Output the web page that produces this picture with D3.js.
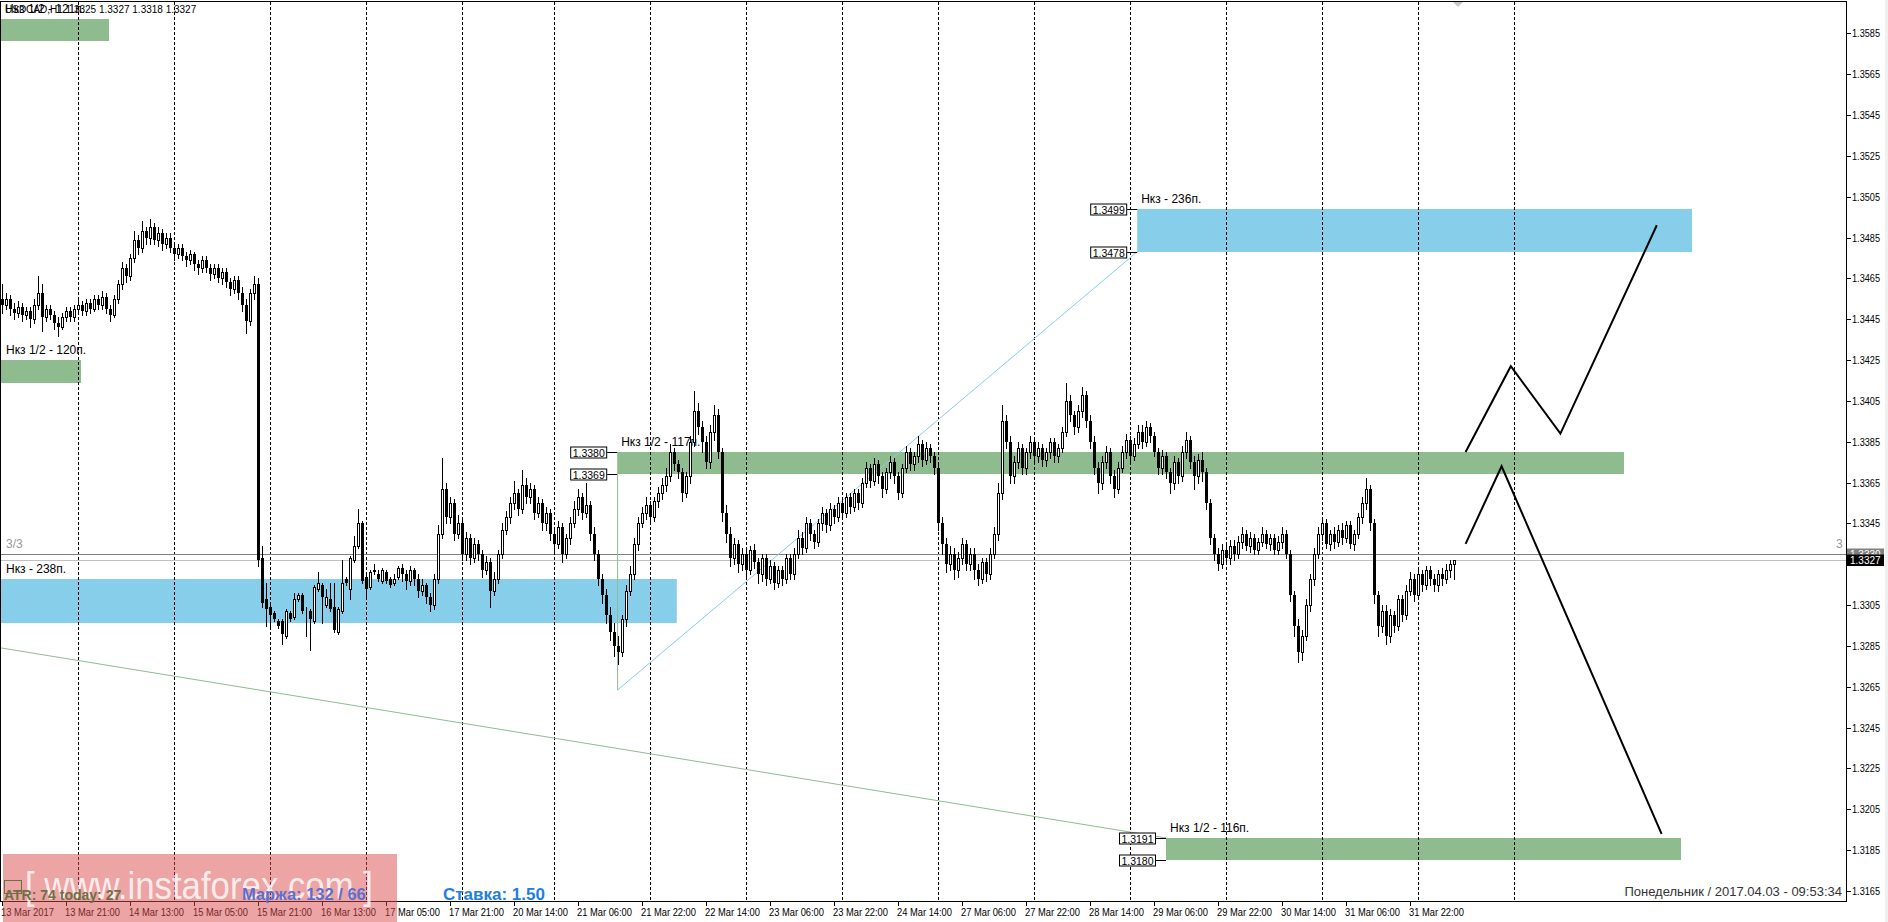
<!DOCTYPE html>
<html><head><meta charset="utf-8">
<script src="https://cdn.jsdelivr.net/npm/d3@7"></script>
<style>
body{margin:0;background:#fff;overflow:hidden}
svg{display:block}
text{font-family:"Liberation Sans",Arial,sans-serif}
</style>
</head><body>
<svg id="c" width="1888" height="922"></svg>
<script>
// ---------- DATA ----------
const yTicks = [1.3585,1.3565,1.3545,1.3525,1.3505,1.3485,1.3465,1.3445,1.3425,1.3405,1.3385,1.3365,1.3345,1.3305,1.3285,1.3265,1.3245,1.3225,1.3205,1.3185,1.3165];
const xLabels = ["13 Mar 2017","13 Mar 21:00","14 Mar 13:00","15 Mar 05:00","15 Mar 21:00","16 Mar 13:00","17 Mar 05:00","17 Mar 21:00","20 Mar 14:00","21 Mar 06:00","21 Mar 22:00","22 Mar 14:00","23 Mar 06:00","23 Mar 22:00","24 Mar 14:00","27 Mar 06:00","27 Mar 22:00","28 Mar 14:00","29 Mar 06:00","29 Mar 22:00","30 Mar 14:00","31 Mar 06:00","31 Mar 22:00"];
const xLabelBars = [0,16,32,48,64,80,96,112,128,144,160,176,192,208,224,240,256,272,288,304,320,336,352];
const gridBars = [19,43,67,91,115,138,162,186,210,234,258,282,306,330,354,378];

// hourly candles, USDCAD H1 (index = bar number)
const opens = [
1.3455,1.3452,1.3455,1.3450,1.3448,1.3451,1.3447,1.3449,1.3445,1.3452,
1.3458,1.3446,1.3450,1.3447,1.3443,1.3441,1.3446,1.3449,1.3446,1.3450,
1.3452,1.3449,1.3453,1.3450,1.3455,1.3452,1.3456,1.3450,1.3447,1.3455,
1.3462,1.3470,1.3466,1.3475,1.3484,1.3480,1.3488,1.3485,1.3490,1.3484,
1.3487,1.3482,1.3485,1.3480,1.3477,1.3480,1.3476,1.3474,1.3477,1.3472,
1.3470,1.3474,1.3470,1.3467,1.3470,1.3465,1.3468,1.3463,1.3460,1.3464,
1.3458,1.3452,1.3444,1.3458,1.3462,1.3328,1.3308,1.3304,1.3301,1.3297,
1.3297,1.3290,1.3301,1.3299,1.3308,1.3310,1.3302,1.3302,1.3297,1.3313,
1.3315,1.3305,1.3308,1.3304,1.3292,1.3302,1.3318,1.3313,1.3327,1.3334,
1.3345,1.3319,1.3314,1.3322,1.3320,1.3317,1.3321,1.3318,1.3316,1.3319,
1.3323,1.3320,1.3317,1.3322,1.3318,1.3312,1.3315,1.3309,1.3305,1.3318,
1.3340,1.3362,1.3348,1.3355,1.3340,1.3345,1.3330,1.3338,1.3328,1.3335,
1.3330,1.3322,1.3326,1.3312,1.3318,1.3330,1.3342,1.3348,1.3355,1.3360,
1.3352,1.3364,1.3358,1.3362,1.3350,1.3355,1.3345,1.3350,1.3340,1.3335,
1.3343,1.3330,1.3338,1.3345,1.3352,1.3358,1.3350,1.3354,1.3340,1.3330,
1.3318,1.3310,1.3300,1.3292,1.3285,1.3282,1.3298,1.3312,1.3320,1.3335,
1.3345,1.3350,1.3354,1.3348,1.3356,1.3360,1.3364,1.3368,1.3380,1.3374,
1.3370,1.3360,1.3368,1.3385,1.3400,1.3392,1.3385,1.3375,1.3390,1.3398,
1.3380,1.3350,1.3340,1.3328,1.3335,1.3325,1.3330,1.3322,1.3332,1.3326,
1.3320,1.3328,1.3318,1.3324,1.3316,1.3322,1.3318,1.3328,1.3320,1.3330,
1.3338,1.3333,1.3345,1.3340,1.3336,1.3345,1.3350,1.3344,1.3352,1.3348,
1.3355,1.3350,1.3358,1.3353,1.3360,1.3355,1.3365,1.3372,1.3366,1.3374,
1.3368,1.3362,1.3370,1.3375,1.3368,1.3360,1.3372,1.3380,1.3374,1.3378,
1.3384,1.3376,1.3382,1.3378,1.3372,1.3345,1.3335,1.3325,1.3330,1.3322,
1.3328,1.3335,1.3325,1.3330,1.3322,1.3318,1.3326,1.3320,1.3330,1.3340,
1.3360,1.3395,1.3385,1.3368,1.3375,1.3382,1.3372,1.3380,1.3385,1.3378,
1.3382,1.3376,1.3380,1.3385,1.3378,1.3382,1.3390,1.3405,1.3398,1.3392,
1.3400,1.3408,1.3395,1.3385,1.3372,1.3365,1.3375,1.3380,1.3368,1.3362,
1.3372,1.3380,1.3386,1.3378,1.3384,1.3390,1.3385,1.3392,1.3388,1.3380,
1.3372,1.3378,1.3370,1.3365,1.3375,1.3368,1.3380,1.3386,1.3375,1.3368,
1.3376,1.3370,1.3355,1.3338,1.3330,1.3325,1.3332,1.3328,1.3334,1.3330,
1.3336,1.3340,1.3334,1.3338,1.3332,1.3336,1.3340,1.3335,1.3338,1.3332,
1.3336,1.3340,1.3330,1.3310,1.3295,1.3282,1.3290,1.3305,1.3318,1.3330,
1.3340,1.3345,1.3335,1.3340,1.3336,1.3342,1.3338,1.3344,1.3335,1.3340,
1.3348,1.3355,1.3362,1.3345,1.3310,1.3295,1.3302,1.3290,1.3300,1.3295,
1.3308,1.3300,1.3312,1.3318,1.3310,1.3320,1.3315,1.3322,1.3318,1.3315,
1.3320,1.3318,1.3322,1.3325];
const highs = [
1.3462,1.3458,1.3457,1.3453,1.3454,1.3453,1.3451,1.3451,1.3455,1.3466,
1.3462,1.3452,1.3452,1.3449,1.3446,1.3448,1.3451,1.3451,1.3452,1.3456,
1.3454,1.3455,1.3455,1.3457,1.3457,1.3459,1.3458,1.3452,1.3457,1.3464,
1.3473,1.3472,1.3477,1.3488,1.3486,1.3493,1.3490,1.3494,1.3492,1.3490,
1.3489,1.3487,1.3487,1.3482,1.3482,1.3482,1.3478,1.3479,1.3478,1.3474,
1.3476,1.3476,1.3472,1.3472,1.3472,1.3470,1.3470,1.3465,1.3466,1.3466,
1.3461,1.3455,1.3460,1.3466,1.3465,1.3334,1.3316,1.3306,1.3302,1.3298,
1.3298,1.3303,1.3302,1.3311,1.3311,1.3311,1.3304,1.3303,1.3315,1.3321,
1.3316,1.3313,1.3316,1.3316,1.3304,1.3327,1.3319,1.3329,1.3339,1.3352,
1.3346,1.3320,1.3322,1.3325,1.3322,1.3323,1.3322,1.3319,1.3320,1.3324,
1.3325,1.3322,1.3324,1.3323,1.3320,1.3318,1.3316,1.3311,1.3320,1.3344,
1.3377,1.3365,1.3358,1.3357,1.3349,1.3347,1.3341,1.3340,1.3338,1.3337,
1.3332,1.3329,1.3328,1.3321,1.3332,1.3345,1.3351,1.3358,1.3366,1.3362,
1.3371,1.3367,1.3365,1.3364,1.3358,1.3357,1.3353,1.3352,1.3343,1.3346,
1.3345,1.3340,1.3348,1.3356,1.3362,1.3360,1.3365,1.3356,1.3343,1.3332,
1.3320,1.3313,1.3304,1.3296,1.3290,1.3300,1.3315,1.3324,1.3338,1.3348,
1.3353,1.3358,1.3356,1.3358,1.3363,1.3367,1.3372,1.3384,1.3382,1.3376,
1.3372,1.3370,1.3388,1.3410,1.3404,1.3395,1.3388,1.3393,1.3403,1.3401,
1.3382,1.3354,1.3343,1.3338,1.3337,1.3333,1.3333,1.3334,1.3335,1.3328,
1.3330,1.3330,1.3327,1.3326,1.3324,1.3324,1.3330,1.3330,1.3333,1.3342,
1.3341,1.3348,1.3347,1.3342,1.3347,1.3353,1.3352,1.3355,1.3354,1.3358,
1.3357,1.3360,1.3360,1.3362,1.3362,1.3367,1.3375,1.3374,1.3377,1.3376,
1.3370,1.3372,1.3378,1.3377,1.3370,1.3374,1.3383,1.3382,1.3380,1.3388,
1.3386,1.3385,1.3384,1.3380,1.3374,1.3348,1.3338,1.3334,1.3333,1.3331,
1.3338,1.3337,1.3333,1.3333,1.3325,1.3328,1.3328,1.3333,1.3343,1.3365,
1.3403,1.3398,1.3388,1.3378,1.3385,1.3384,1.3382,1.3388,1.3387,1.3385,
1.3384,1.3382,1.3387,1.3387,1.3384,1.3392,1.3414,1.3408,1.3400,1.3403,
1.3412,1.3410,1.3398,1.3388,1.3375,1.3378,1.3383,1.3382,1.3371,1.3375,
1.3383,1.3389,1.3388,1.3387,1.3393,1.3393,1.3395,1.3394,1.3390,1.3382,
1.3381,1.3380,1.3372,1.3378,1.3377,1.3383,1.3390,1.3388,1.3378,1.3379,
1.3380,1.3372,1.3357,1.3340,1.3333,1.3335,1.3336,1.3337,1.3337,1.3339,
1.3343,1.3342,1.3341,1.3340,1.3338,1.3343,1.3342,1.3340,1.3340,1.3339,
1.3343,1.3342,1.3332,1.3312,1.3298,1.3293,1.3308,1.3320,1.3333,1.3343,
1.3348,1.3347,1.3342,1.3343,1.3344,1.3345,1.3346,1.3346,1.3342,1.3350,
1.3358,1.3367,1.3364,1.3347,1.3312,1.3305,1.3305,1.3303,1.3302,1.3310,
1.3310,1.3315,1.3321,1.3320,1.3323,1.3322,1.3324,1.3324,1.3320,1.3322,
1.3323,1.3325,1.3327,1.3327];
const lows = [
1.3448,1.3450,1.3447,1.3445,1.3446,1.3444,1.3445,1.3441,1.3443,1.3450,
1.3439,1.3444,1.3445,1.3440,1.3437,1.3440,1.3444,1.3444,1.3444,1.3448,
1.3447,1.3447,1.3448,1.3449,1.3450,1.3450,1.3448,1.3444,1.3446,1.3453,
1.3460,1.3463,1.3464,1.3473,1.3477,1.3478,1.3482,1.3482,1.3482,1.3481,
1.3479,1.3480,1.3478,1.3474,1.3475,1.3474,1.3471,1.3472,1.3469,1.3467,
1.3468,1.3468,1.3464,1.3465,1.3463,1.3462,1.3461,1.3457,1.3458,1.3455,
1.3449,1.3438,1.3442,1.3455,1.3324,1.3304,1.3295,1.3295,1.3297,1.3294,
1.3286,1.3289,1.3297,1.3298,1.3307,1.3301,1.3290,1.3283,1.3296,1.3312,
1.3296,1.3304,1.3302,1.3292,1.3291,1.3301,1.3315,1.3308,1.3326,1.3333,
1.3316,1.3308,1.3313,1.3320,1.3317,1.3316,1.3316,1.3314,1.3315,1.3318,
1.3317,1.3313,1.3315,1.3315,1.3309,1.3310,1.3306,1.3302,1.3303,1.3316,
1.3338,1.3345,1.3345,1.3337,1.3338,1.3327,1.3327,1.3325,1.3326,1.3327,
1.3319,1.3320,1.3304,1.3310,1.3316,1.3328,1.3340,1.3345,1.3352,1.3349,
1.3350,1.3355,1.3355,1.3347,1.3348,1.3342,1.3342,1.3337,1.3330,1.3333,
1.3326,1.3328,1.3335,1.3343,1.3349,1.3347,1.3348,1.3337,1.3327,1.3315,
1.3306,1.3296,1.3288,1.3280,1.3276,1.3280,1.3295,1.3310,1.3318,1.3332,
1.3343,1.3347,1.3346,1.3346,1.3353,1.3357,1.3361,1.3366,1.3371,1.3367,
1.3356,1.3358,1.3365,1.3383,1.3389,1.3380,1.3372,1.3372,1.3386,1.3377,
1.3346,1.3336,1.3324,1.3325,1.3321,1.3322,1.3318,1.3320,1.3323,1.3316,
1.3317,1.3315,1.3316,1.3313,1.3314,1.3315,1.3316,1.3318,1.3318,1.3328,
1.3330,1.3331,1.3337,1.3333,1.3334,1.3342,1.3341,1.3342,1.3345,1.3346,
1.3347,1.3348,1.3350,1.3351,1.3352,1.3353,1.3363,1.3363,1.3364,1.3365,
1.3358,1.3360,1.3367,1.3365,1.3357,1.3358,1.3370,1.3371,1.3371,1.3375,
1.3373,1.3374,1.3375,1.3369,1.3342,1.3330,1.3321,1.3322,1.3318,1.3319,
1.3325,1.3322,1.3322,1.3318,1.3315,1.3316,1.3317,1.3318,1.3328,1.3337,
1.3357,1.3382,1.3365,1.3365,1.3372,1.3369,1.3369,1.3377,1.3375,1.3375,
1.3373,1.3373,1.3377,1.3375,1.3375,1.3380,1.3388,1.3395,1.3389,1.3390,
1.3397,1.3392,1.3382,1.3369,1.3360,1.3362,1.3372,1.3365,1.3358,1.3360,
1.3370,1.3377,1.3375,1.3376,1.3382,1.3382,1.3383,1.3385,1.3378,1.3369,
1.3369,1.3367,1.3360,1.3362,1.3365,1.3366,1.3377,1.3372,1.3362,1.3365,
1.3366,1.3352,1.3335,1.3327,1.3322,1.3323,1.3326,1.3325,1.3327,1.3328,
1.3333,1.3332,1.3331,1.3330,1.3330,1.3334,1.3333,1.3332,1.3330,1.3330,
1.3333,1.3328,1.3307,1.3290,1.3277,1.3278,1.3288,1.3302,1.3315,1.3328,
1.3337,1.3333,1.3332,1.3333,1.3334,1.3335,1.3336,1.3333,1.3332,1.3338,
1.3345,1.3352,1.3342,1.3306,1.3290,1.3292,1.3286,1.3287,1.3292,1.3293,
1.3297,1.3298,1.3310,1.3307,1.3308,1.3312,1.3313,1.3315,1.3312,1.3312,
1.3315,1.3316,1.3319,1.3318];
const closes = [
1.3452,1.3455,1.3450,1.3448,1.3451,1.3447,1.3449,1.3445,1.3452,1.3458,
1.3446,1.3450,1.3447,1.3443,1.3441,1.3446,1.3449,1.3446,1.3450,1.3452,
1.3449,1.3453,1.3450,1.3455,1.3452,1.3456,1.3450,1.3447,1.3455,1.3462,
1.3470,1.3466,1.3475,1.3484,1.3480,1.3488,1.3485,1.3490,1.3484,1.3487,
1.3482,1.3485,1.3480,1.3477,1.3480,1.3476,1.3474,1.3477,1.3472,1.3470,
1.3474,1.3470,1.3467,1.3470,1.3465,1.3468,1.3463,1.3460,1.3464,1.3458,
1.3452,1.3444,1.3458,1.3462,1.3327,1.3306,1.3303,1.3300,1.3298,1.3295,
1.3291,1.3302,1.3298,1.3308,1.3310,1.3302,1.3302,1.3298,1.3314,1.3316,
1.3309,1.3309,1.3303,1.3293,1.3303,1.3316,1.3316,1.3328,1.3334,1.3345,
1.3317,1.3313,1.3321,1.3321,1.3318,1.3322,1.3317,1.3315,1.3318,1.3323,
1.3320,1.3317,1.3322,1.3318,1.3312,1.3315,1.3309,1.3305,1.3318,1.3340,
1.3362,1.3348,1.3355,1.3340,1.3345,1.3330,1.3338,1.3328,1.3335,1.3330,
1.3322,1.3326,1.3312,1.3318,1.3330,1.3342,1.3348,1.3355,1.3360,1.3352,
1.3364,1.3358,1.3362,1.3350,1.3355,1.3345,1.3350,1.3340,1.3335,1.3343,
1.3330,1.3338,1.3345,1.3352,1.3358,1.3350,1.3354,1.3340,1.3330,1.3318,
1.3310,1.3300,1.3292,1.3285,1.3282,1.3298,1.3312,1.3320,1.3335,1.3345,
1.3350,1.3354,1.3348,1.3356,1.3360,1.3364,1.3368,1.3380,1.3374,1.3370,
1.3360,1.3368,1.3385,1.3400,1.3392,1.3385,1.3375,1.3390,1.3398,1.3380,
1.3350,1.3340,1.3328,1.3335,1.3325,1.3330,1.3322,1.3332,1.3326,1.3320,
1.3328,1.3318,1.3324,1.3316,1.3322,1.3318,1.3328,1.3320,1.3330,1.3338,
1.3333,1.3345,1.3340,1.3336,1.3345,1.3350,1.3344,1.3352,1.3348,1.3355,
1.3350,1.3358,1.3353,1.3360,1.3355,1.3365,1.3372,1.3366,1.3374,1.3368,
1.3362,1.3370,1.3375,1.3368,1.3360,1.3372,1.3380,1.3374,1.3378,1.3384,
1.3376,1.3382,1.3378,1.3372,1.3345,1.3335,1.3325,1.3330,1.3322,1.3328,
1.3335,1.3325,1.3330,1.3322,1.3318,1.3326,1.3320,1.3330,1.3340,1.3360,
1.3395,1.3385,1.3368,1.3375,1.3382,1.3372,1.3380,1.3385,1.3378,1.3382,
1.3376,1.3380,1.3385,1.3378,1.3382,1.3390,1.3405,1.3398,1.3392,1.3400,
1.3408,1.3395,1.3385,1.3372,1.3365,1.3375,1.3380,1.3368,1.3362,1.3372,
1.3380,1.3386,1.3378,1.3384,1.3390,1.3385,1.3392,1.3388,1.3380,1.3372,
1.3378,1.3370,1.3365,1.3375,1.3368,1.3380,1.3386,1.3375,1.3368,1.3376,
1.3370,1.3355,1.3338,1.3330,1.3325,1.3332,1.3328,1.3334,1.3330,1.3336,
1.3340,1.3334,1.3338,1.3332,1.3336,1.3340,1.3335,1.3338,1.3332,1.3336,
1.3340,1.3330,1.3310,1.3295,1.3282,1.3290,1.3305,1.3318,1.3330,1.3340,
1.3345,1.3335,1.3340,1.3336,1.3342,1.3338,1.3344,1.3335,1.3340,1.3348,
1.3355,1.3362,1.3345,1.3310,1.3295,1.3302,1.3290,1.3300,1.3295,1.3308,
1.3300,1.3312,1.3318,1.3310,1.3320,1.3315,1.3322,1.3318,1.3315,1.3320,
1.3318,1.3322,1.3325,1.3327];

// zones: [startBar, endBar, lowPrice, highPrice]
const greenZones = [[-0.5,26.75,1.3581,1.3592],[-0.5,19.75,1.3414,1.3425],[153.8,405.5,1.3369,1.3380],[291,419.75,1.3180,1.3191]];
const greenZoneLabels = ["Нкз 1/2 - 121п.","Нкз 1/2 - 120п.","Нкз 1/2 - 117п.","Нкз 1/2 - 116п."];
const blueZones = [[-0.5,168.7,1.3296,1.3318],[283.8,422.5,1.3478,1.3499]];
const blueZoneLabels = ["Нкз - 238п.","Нкз - 236п."];
const priceTags = [[153.8,1.3380],[153.8,1.3369],[283.8,1.3499],[283.8,1.3478],[291,1.3191],[291,1.3180]];

// trend lines [bar, price]
const blueTrend = [[153.9,1.32634],[283.8,1.3478]];
const greenTrend = [[-0.5,1.32841],[291,1.3191]];
const greenVertical = [[153.9,1.3369],[153.9,1.32634]];

// forecast paths [bar, price]
const forecastA = [[365.9,1.3335],[374.9,1.3373],[414.9,1.3193]];
const forecastB = [[365.9,1.3380],[377.2,1.3422],[389.6,1.3389],[413.7,1.3491]];

const level3 = 1.3330, bidPrice = 1.3327;
const header = "USDCAD,H1 1.3325 1.3327 1.3318 1.3327";
const footerDate = "Понедельник / 2017.04.03 - 09:53:34";
const infoATR = "ATR: 74  today: 27", infoMargin = "Маржа: 132 / 66", infoRate = "Ставка: 1.50";
const watermark = "[ www.instaforex.com ]";

// ---------- DRAW ----------
const svg = d3.select("#c");
const y = d3.scaleLinear().domain([1.3165,1.3585]).range([891,33.3]);
const x = d3.scaleLinear().domain([0,460]).range([2,1842]);
const px = v => Math.round(x(v));
const py = v => Math.round(y(v));
const f4 = d3.format(".4f");

svg.append("defs").append("clipPath").attr("id","pc").append("rect").attr("x",1).attr("y",2).attr("width",1845).attr("height",899);
const plot = svg.append("g").attr("clip-path","url(#pc)");

const zoneRect = (sel, data, col) => sel.selectAll(null).data(data).enter().append("rect")
  .attr("x",d=>x(d[0])).attr("width",d=>x(d[1])-x(d[0]))
  .attr("y",d=>py(d[3])).attr("height",d=>py(d[2])-py(d[3])).attr("fill",col);
zoneRect(plot, greenZones, "#8fbc8f");
zoneRect(plot, blueZones, "#87ceeb");

plot.selectAll(null).data(gridBars).enter().append("line")
  .attr("x1",d=>px(d)+0.5).attr("x2",d=>px(d)+0.5).attr("y1",2).attr("y2",902)
  .attr("stroke","#000").attr("stroke-dasharray","3,2");

plot.append("line").attr("x1",0).attr("x2",1847).attr("y1",py(level3)+0.5).attr("y2",py(level3)+0.5).attr("stroke","#808080");
plot.append("line").attr("x1",0).attr("x2",1847).attr("y1",py(bidPrice)+0.5).attr("y2",py(bidPrice)+0.5).attr("stroke","#c0c0c0");

const lg = d3.line().x(d=>x(d[0])).y(d=>y(d[1]));
plot.append("path").attr("d",lg(greenTrend)).attr("fill","none").attr("stroke","#8fbc8f");
plot.append("path").attr("d",lg(blueTrend)).attr("fill","none").attr("stroke","#87ceeb");
plot.append("path").attr("d",lg(greenVertical)).attr("fill","none").attr("stroke","#8fbc8f");

const zoneLabelAt = (zones, labels) => zones.forEach((z,k)=>{
  const lx = z[0] < 0 ? 6 : x(z[0]) + 4;
  plot.append("text").attr("x",lx).attr("y",py(z[3])-6).attr("font-size",12).attr("fill","#000").text(labels[k]);
});
zoneLabelAt(greenZones.slice(1), greenZoneLabels.slice(1));
zoneLabelAt(blueZones, blueZoneLabels);

priceTags.forEach(t=>{
  const tx = x(t[0]), ty = py(t[1]);
  plot.append("line").attr("x1",tx-10).attr("x2",tx).attr("y1",ty+0.5).attr("y2",ty+0.5).attr("stroke","#000");
  plot.append("rect").attr("x",tx-46.5).attr("y",ty-5).attr("width",36).attr("height",11).attr("fill","#fff").attr("stroke","#000");
  plot.append("text").attr("x",tx-28.5).attr("y",ty+4.5).attr("text-anchor","middle").attr("font-size",10.5).text(f4(t[1]));
});

plot.append("text").attr("x",6).attr("y",py(level3)-6).attr("font-size",12).attr("fill","#999").text("3/3");
plot.append("text").attr("x",1836).attr("y",py(level3)-6).attr("font-size",12).attr("fill","#999").text("3");

// candles
const cg = plot.append("g");
closes.forEach((c,i)=>{
  const o = opens[i], cx = px(i);
  cg.append("line").attr("x1",cx+0.5).attr("x2",cx+0.5).attr("y1",py(highs[i])).attr("y2",py(lows[i])+1).attr("stroke","#000");
  const top = py(Math.max(o,c)), bot = py(Math.min(o,c));
  if (c >= o) cg.append("rect").attr("x",cx-0.5).attr("y",top+0.5).attr("width",2).attr("height",Math.max(bot-top,0)).attr("fill","#fff").attr("stroke","#000");
  else cg.append("rect").attr("x",cx-1).attr("y",top).attr("width",3).attr("height",Math.max(bot-top,1)).attr("fill","#000");
});

[forecastA, forecastB].forEach(f=>plot.append("path").attr("d",lg(f)).attr("fill","none").attr("stroke","#000").attr("stroke-width",2));

svg.append("text").attr("x",5).attr("y",13).attr("font-size",10).text(header);
svg.append("text").attr("x",5).attr("y",13).attr("font-size",12).text(greenZoneLabels[0]);
svg.append("path").attr("d","M1453,2 L1463,2 L1458,7 Z").attr("fill","#c8c8c8");

svg.append("rect").attr("x",0.5).attr("y",1.5).attr("width",1846).attr("height",900).attr("fill","none").attr("stroke","#000");

// y axis
const ya = svg.append("g");
yTicks.forEach(t=>{
  ya.append("line").attr("x1",1847).attr("x2",1851).attr("y1",py(t)+0.5).attr("y2",py(t)+0.5).attr("stroke","#000");
  ya.append("text").attr("x",1852).attr("y",py(t)+3.5).attr("font-size",10).attr("textLength",28).attr("lengthAdjust","spacingAndGlyphs").text(f4(t));
});
ya.append("rect").attr("x",1847).attr("y",py(level3)-5.5).attr("width",37).attr("height",11).attr("fill","#808080");
ya.append("text").attr("x",1850).attr("y",py(level3)+3.5).attr("font-size",10).attr("fill","#fff").text(f4(level3));
ya.append("rect").attr("x",1847).attr("y",py(bidPrice)-5.5).attr("width",37).attr("height",11.5).attr("fill","#000");
ya.append("text").attr("x",1850).attr("y",py(bidPrice)+4).attr("font-size",10).attr("fill","#fff").text(f4(bidPrice));
svg.append("rect").attr("x",1885).attr("y",0).attr("width",3).attr("height",922).attr("fill","#f0f0f0");

// x axis
const xa = svg.append("g");
xLabelBars.forEach((b,k)=>{
  xa.append("line").attr("x1",px(b)+0.5).attr("x2",px(b)+0.5).attr("y1",902).attr("y2",906).attr("stroke","#000");
  xa.append("text").attr("x",px(b)-1).attr("y",916).attr("font-size",10.5)
    .attr("textLength", k===0 ? 53 : 55).attr("lengthAdjust","spacingAndGlyphs").text(xLabels[k]);
});

// footer
svg.append("text").attr("x",1842).attr("y",896).attr("text-anchor","end").attr("font-size",13).attr("fill","#333").text(footerDate);
svg.append("rect").attr("x",3).attr("y",854).attr("width",394).attr("height",68).attr("fill","rgb(217,73,73)").attr("fill-opacity",0.5);
svg.append("text").attr("x",25).attr("y",899).attr("font-size",38).attr("fill","#fff").attr("fill-opacity",0.8)
  .attr("textLength",348).attr("lengthAdjust","spacingAndGlyphs").text(watermark);
svg.append("rect").attr("x",4.5).attr("y",880.5).attr("width",17).attr("height",13).attr("fill","none").attr("stroke","#6f6f45");
svg.append("text").attr("x",4).attr("y",900).attr("font-size",14).attr("font-weight","bold").attr("fill","#6f6f45").text(infoATR);
svg.append("text").attr("x",242).attr("y",900).attr("font-size",16.5).attr("font-weight","bold").attr("fill","#5b6fcf").text(infoMargin);
svg.append("text").attr("x",443).attr("y",900).attr("font-size",17).attr("font-weight","bold").attr("fill","#1e7fe0").text(infoRate);
</script>
</body></html>
